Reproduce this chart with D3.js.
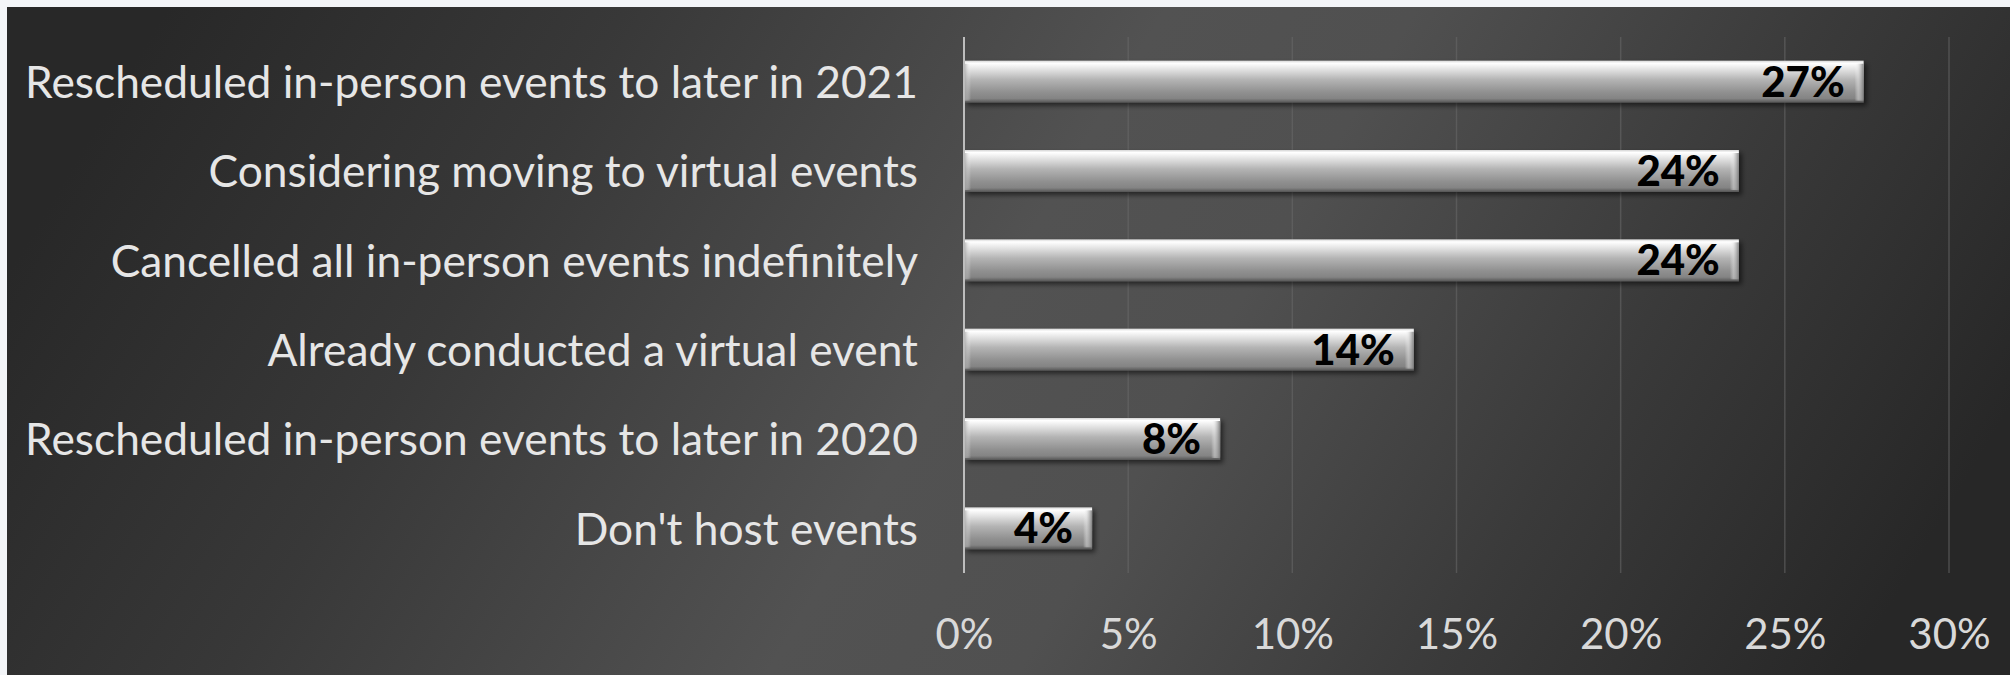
<!DOCTYPE html>
<html>
<head>
<meta charset="utf-8">
<script src="https://cdn.jsdelivr.net/npm/d3@7"></script>
<style>
  html, body { margin: 0; padding: 0; background: #f3f5f8; }
  svg { display: block; }
</style>
</head>
<body>
<svg id="chart" width="2010" height="675"></svg>
<script>
// ---- data ----
const categories = [
  "Rescheduled in-person events to later in 2021",
  "Considering moving to virtual events",
  "Cancelled all in-person events indefinitely",
  "Already conducted a virtual event",
  "Rescheduled in-person events to later in 2020",
  "Don't host events"
];
const values = [0.274, 0.236, 0.236, 0.137, 0.078, 0.039];
const valueLabels = ["27%", "24%", "24%", "14%", "8%", "4%"];
const xTicks = [0, 0.05, 0.10, 0.15, 0.20, 0.25, 0.30];
const xTickLabels = ["0%", "5%", "10%", "15%", "20%", "25%", "30%"];

const W = 2010, H = 675;
const svg = d3.select("#chart");
const defs = svg.append("defs");

// background gradient
const bg = defs.append("linearGradient").attr("id", "bgGrad")
  .attr("x1", "0%").attr("y1", "40%").attr("x2", "100%").attr("y2", "60%");
[[0, "#282828"], [0.22, "#383838"], [0.48, "#525252"], [0.6, "#505050"], [0.8, "#3a3a3a"], [1, "#272727"]]
  .forEach(([o, c]) => bg.append("stop").attr("offset", o).attr("stop-color", c));

// bar vertical gradient
const bar = defs.append("linearGradient").attr("id", "barGrad")
  .attr("x1", "0").attr("y1", "0").attr("x2", "0").attr("y2", "1");
[[0, "#d6d6d6"], [0.06, "#ffffff"], [0.18, "#e8e8e8"], [0.45, "#b4b4b4"], [0.75, "#909090"], [0.9, "#848484"], [1, "#555555"]]
  .forEach(([o, c]) => bar.append("stop").attr("offset", o).attr("stop-color", c));

// end bevels
const endR = defs.append("linearGradient").attr("id", "endR")
  .attr("x1", "0").attr("y1", "0").attr("x2", "1").attr("y2", "0");
[[0, "#ffffff", 0], [0.4, "#e0e0e0", 0.5], [1, "#7a7a7a", 0.9]]
  .forEach(([o, c, a]) => endR.append("stop").attr("offset", o).attr("stop-color", c).attr("stop-opacity", a));
const endL = defs.append("linearGradient").attr("id", "endL")
  .attr("x1", "0").attr("y1", "0").attr("x2", "1").attr("y2", "0");
[[0, "#9a9a9a", 0.8], [1, "#ffffff", 0]]
  .forEach(([o, c, a]) => endL.append("stop").attr("offset", o).attr("stop-color", c).attr("stop-opacity", a));

const shadow = defs.append("filter").attr("id", "shadow")
  .attr("x", "-5%").attr("y", "-30%").attr("width", "115%").attr("height", "170%");
shadow.append("feDropShadow").attr("dx", 3).attr("dy", 3).attr("stdDeviation", 2.5)
  .attr("flood-color", "#000").attr("flood-opacity", 0.55);

// panel background
svg.append("rect").attr("x", 7).attr("y", 7).attr("width", W - 7).attr("height", H - 7)
  .attr("fill", "url(#bgGrad)");

// scales
const x = d3.scaleLinear().domain([0, 0.30]).range([964, 1949]);
const y = d3.scaleBand().domain(categories).range([37, 573]).paddingInner(0.53).paddingOuter(0.265);

// gridlines
svg.append("g")
  .selectAll("line").data(xTicks.slice(1)).join("line")
  .attr("x1", d => x(d)).attr("x2", d => x(d))
  .attr("y1", 37).attr("y2", 573)
  .attr("stroke", "#6a6a6a").attr("stroke-opacity", 0.55).attr("stroke-width", 1.5);

// x axis labels
const xAxis = d3.axisBottom(x).tickValues(xTicks)
  .tickFormat((d, i) => xTickLabels[i]).tickSize(0).tickPadding(0);
const gx = svg.append("g").attr("transform", "translate(0,634)").call(xAxis);
gx.select(".domain").remove();
gx.selectAll("text")
  .attr("dy", "0.35em").attr("y", 0)
  .attr("fill", "#d9d9d9")
  .style("font-family", "Lato, 'Noto Sans', sans-serif")
  .style("font-size", "42px");

// category labels
const yAxis = d3.axisLeft(y).tickSize(0).tickPadding(0);
const gy = svg.append("g").attr("transform", "translate(918,0)").call(yAxis);
gy.select(".domain").remove();
gy.selectAll("text")
  .attr("x", 0).attr("dy", "0.37em")
  .attr("fill", "#e6e6e6")
  .style("font-family", "Lato, 'Noto Sans', sans-serif")
  .style("font-size", "44.3px");

// bars
const rows = categories.map((c, i) => ({ c, v: values[i], l: valueLabels[i] }));
const gb = svg.append("g");
const bg2 = gb.selectAll("g.bar").data(rows).join("g").attr("class", "bar");
bg2.append("rect")
  .attr("x", x(0)).attr("y", d => y(d.c))
  .attr("width", d => x(d.v) - x(0)).attr("height", y.bandwidth())
  .attr("fill", "url(#barGrad)").attr("filter", "url(#shadow)");
bg2.append("rect")
  .attr("x", d => x(d.v) - 9).attr("y", d => y(d.c) + 3)
  .attr("width", 9).attr("height", y.bandwidth() - 5)
  .attr("fill", "url(#endR)");
bg2.append("rect")
  .attr("x", x(0)).attr("y", d => y(d.c) + 3)
  .attr("width", 7).attr("height", y.bandwidth() - 5)
  .attr("fill", "url(#endL)");
bg2.append("text")
  .attr("x", d => x(d.v) - 19).attr("y", d => y(d.c) + y.bandwidth() / 2)
  .attr("dy", "0.36em").attr("text-anchor", "end")
  .attr("fill", "#000")
  .style("font-family", "Lato, 'Noto Sans', sans-serif")
  .style("font-weight", "900")
  .style("font-size", "42px")
  .text(d => d.l);

// y axis line
svg.append("line")
  .attr("x1", x(0)).attr("x2", x(0)).attr("y1", 37).attr("y2", 573)
  .attr("stroke", "#bdbdbd").attr("stroke-width", 2);
</script>
</body>
</html>
